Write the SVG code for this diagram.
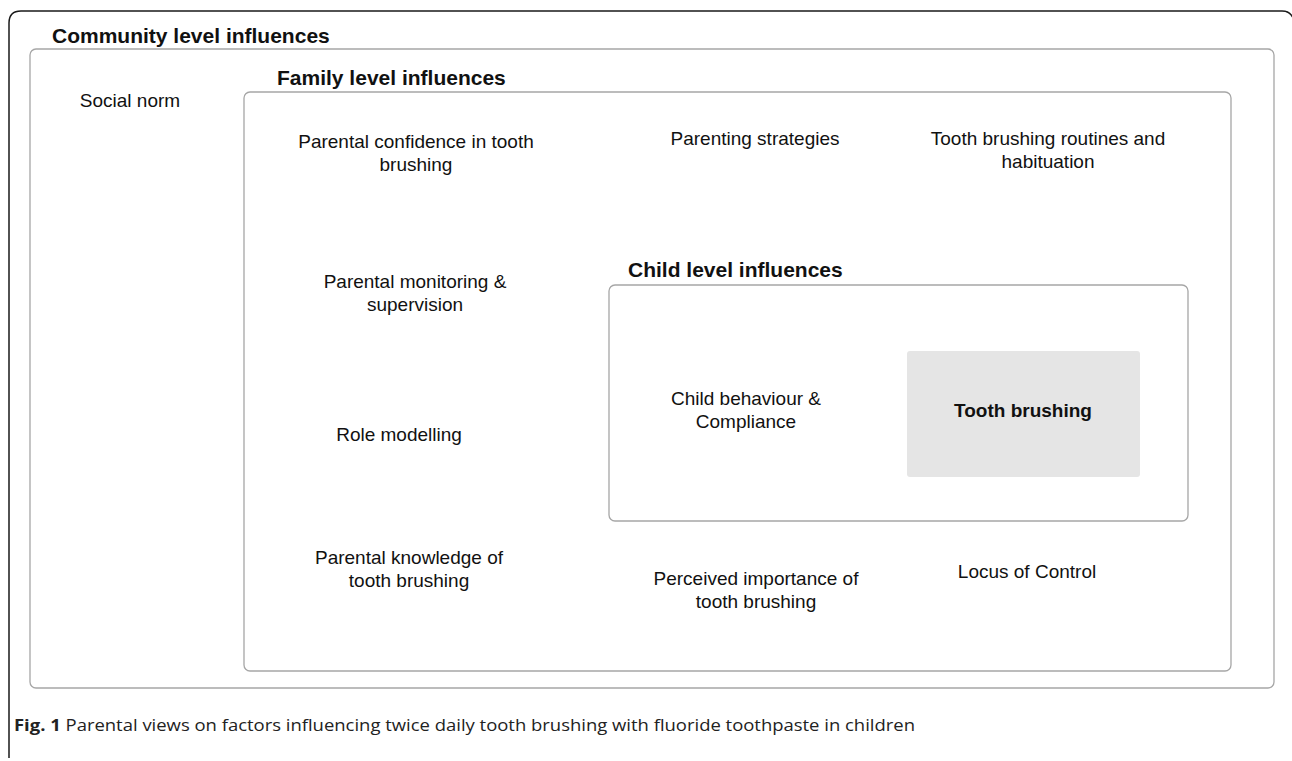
<svg xmlns="http://www.w3.org/2000/svg" width="1292" height="761" viewBox="0 0 1292 761">
<style>
.frame{fill:none;stroke:#1a1a1a;stroke-width:1.5}
.box{fill:#fff;stroke:#a6a6a6;stroke-width:1.3}
.t{font-family:"Liberation Sans",Arial,sans-serif;font-size:19px;fill:#111;text-anchor:middle}
.h{font-family:"Liberation Sans",Arial,sans-serif;font-size:21px;font-weight:bold;fill:#111}
.cap{font-family:"Open Sans","Liberation Sans",sans-serif;font-size:16px;fill:#222}
</style>
<rect width="1292" height="761" fill="#fff"/>
<path class="frame" d="M9,758 L9,23 Q9,11 21,11 L1282,11 Q1290,11 1293,18"/>
<g id="community">
<rect class="box" x="30" y="49" width="1244" height="639" rx="6"/>
<text class="h" x="52" y="43">Community level influences</text>
</g>
<g id="social-norm"><text class="t" x="130" y="107">Social norm</text></g>
<g id="family">
<rect class="box" x="244" y="92" width="987" height="579" rx="6"/>
<text class="h" x="277" y="85">Family level influences</text>
</g>
<g id="parental-confidence"><text class="t" x="416" y="148">Parental confidence in tooth</text><text class="t" x="416" y="171">brushing</text></g>
<g id="parenting-strategies"><text class="t" x="755" y="145">Parenting strategies</text></g>
<g id="routines"><text class="t" x="1048" y="145">Tooth brushing routines and</text><text class="t" x="1048" y="168">habituation</text></g>
<g id="monitoring"><text class="t" x="415" y="288">Parental monitoring &amp;</text><text class="t" x="415" y="311">supervision</text></g>
<g id="role-modelling"><text class="t" x="399" y="441">Role modelling</text></g>
<g id="knowledge"><text class="t" x="409" y="564">Parental knowledge of</text><text class="t" x="409" y="587">tooth brushing</text></g>
<g id="importance"><text class="t" x="756" y="585">Perceived importance of</text><text class="t" x="756" y="608">tooth brushing</text></g>
<g id="locus"><text class="t" x="1027" y="578">Locus of Control</text></g>
<g id="child">
<rect class="box" x="609" y="285" width="579" height="236" rx="6"/>
<text class="h" x="628" y="277">Child level influences</text>
</g>
<g id="child-behaviour"><text class="t" x="746" y="405">Child behaviour &amp;</text><text class="t" x="746" y="428">Compliance</text></g>
<g id="tooth-brushing">
<rect x="907" y="351" width="233" height="126" rx="3" fill="#e5e5e5"/>
<text class="t" x="1023" y="417" font-weight="bold">Tooth brushing</text>
</g>
<g id="connectors"></g>
<text class="cap" x="14" y="731" textLength="901" lengthAdjust="spacingAndGlyphs"><tspan font-weight="bold">Fig. 1</tspan> Parental views on factors influencing twice daily tooth brushing with fluoride toothpaste in children</text>
</svg>
